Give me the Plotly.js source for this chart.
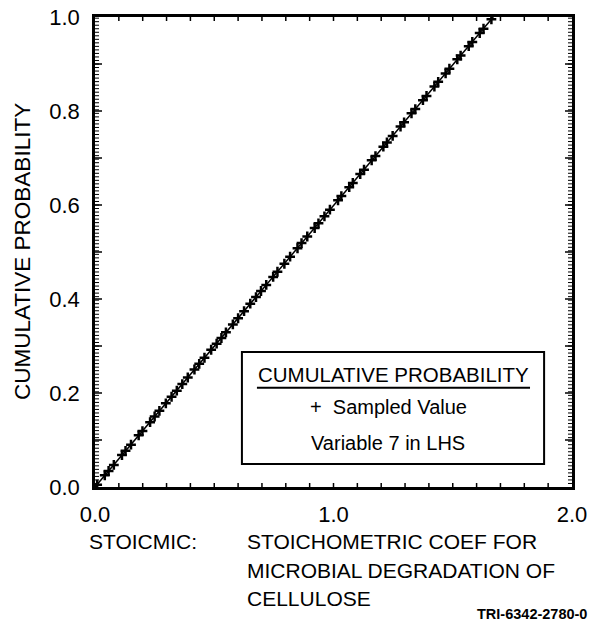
<!DOCTYPE html>
<html>
<head>
<meta charset="utf-8">
<script src="https://cdn.plot.ly/plotly-3.0.1.min.js"></script>
<style>html,body{margin:0;padding:0;background:#fff;}#chart{width:601px;height:632px;}</style>
</head>
<body>
<div id="chart"></div>
<script>
// Sampled values of STOICMIC (x) and their cumulative probability (y)
const sampledValues = [0.009,0.041,0.057,0.079,0.113,0.128,0.151,0.183,0.199,0.231,
  0.250,0.270,0.297,0.321,0.343,0.366,0.389,0.417,0.437,0.459,
  0.487,0.510,0.530,0.549,0.578,0.600,0.625,0.651,0.675,0.696,
  0.718,0.747,0.765,0.794,0.818,0.849,0.866,0.890,0.921,0.937,
  0.962,0.985,1.019,1.033,1.066,1.081,1.112,1.128,1.160,1.176,
  1.209,1.224,1.248,1.281,1.296,1.327,1.343,1.375,1.390,1.423,
  1.439,1.470,1.486,1.519,1.533,1.567,1.582,1.613,1.629,1.662];
const sampledProb = [0.005,0.025,0.034,0.047,0.068,0.077,0.090,0.110,0.119,0.138,
  0.150,0.162,0.178,0.192,0.205,0.219,0.233,0.250,0.262,0.275,
  0.292,0.305,0.317,0.329,0.346,0.359,0.374,0.390,0.404,0.417,
  0.430,0.447,0.458,0.475,0.490,0.508,0.519,0.533,0.551,0.561,
  0.576,0.590,0.610,0.619,0.638,0.647,0.666,0.675,0.695,0.704,
  0.724,0.733,0.747,0.767,0.776,0.795,0.804,0.823,0.832,0.852,
  0.862,0.880,0.890,0.910,0.918,0.938,0.947,0.966,0.975,0.995];
// Cumulative distribution line
const cdfX = [0.0, 1.67];
const cdfY = [0.0, 1.0];
// Tick labels
const xTickVals = [0.0, 1.0, 2.0];
const xTickText = ['0.0', '1.0', '2.0'];
const yTickVals = [0.0, 0.2, 0.4, 0.6, 0.8, 1.0];
const yTickText = ['0.0', '0.2', '0.4', '0.6', '0.8', '1.0'];

const FONT = 'Liberation Sans, Arial, Helvetica, sans-serif';

// Tick-mark positions (axis decoration, in axis units)
const xTickMarks = [];
for (let i = 1; i < 20; i++) xTickMarks.push(i / 10);
const yMajorMarks = [];
for (let i = 1; i < 10; i++) yMajorMarks.push(i / 10);
const yFineMarks = [];
for (let v = 0.0075; v < 0.999; v += 0.0075) yFineMarks.push(v);

// Inward-pointing tick marks, placed with the axis scales and sized in pixels
const tickShapes = [];
xTickMarks.forEach(v => {
  tickShapes.push({type: 'line', xref: 'x', yref: 'paper', ysizemode: 'pixel', yanchor: 0,
    x0: v, x1: v, y0: 0, y1: 4, line: {color: 'black', width: 1.5}});
  tickShapes.push({type: 'line', xref: 'x', yref: 'paper', ysizemode: 'pixel', yanchor: 1,
    x0: v, x1: v, y0: 0, y1: -4, line: {color: 'black', width: 1.5}});
});
yMajorMarks.forEach(v => {
  tickShapes.push({type: 'line', yref: 'y', xref: 'paper', xsizemode: 'pixel', xanchor: 0,
    y0: v, y1: v, x0: 0, x1: 7, line: {color: 'black', width: 1.5}});
  tickShapes.push({type: 'line', yref: 'y', xref: 'paper', xsizemode: 'pixel', xanchor: 1,
    y0: v, y1: v, x0: 0, x1: -7, line: {color: 'black', width: 1.5}});
});
yFineMarks.forEach(v => {
  tickShapes.push({type: 'line', yref: 'y', xref: 'paper', xsizemode: 'pixel', xanchor: 0,
    y0: v, y1: v, x0: 0, x1: 4, line: {color: 'black', width: 1}});
  tickShapes.push({type: 'line', yref: 'y', xref: 'paper', xsizemode: 'pixel', xanchor: 1,
    y0: v, y1: v, x0: 0, x1: -4, line: {color: 'black', width: 1}});
});

const traces = [
  {x: cdfX, y: cdfY, mode: 'lines', line: {color: 'black', width: 1.5}, showlegend: false, hoverinfo: 'skip'},
  {x: sampledValues, y: sampledProb, mode: 'markers',
   marker: {symbol: 'cross-thin', size: 7, color: 'black', line: {color: 'black', width: 2.5}},
   showlegend: false}
];

const layout = {
  width: 601, height: 632,
  margin: {l: 95, r: 29, t: 17, b: 145},
  paper_bgcolor: 'white', plot_bgcolor: 'white',
  font: {family: FONT, size: 20, color: 'black'},
  showlegend: false,
  xaxis: {
    range: [0, 2], tickmode: 'array', tickvals: xTickVals, ticktext: xTickText,
    ticks: '', showline: true, linewidth: 2.5, linecolor: 'black', mirror: true,
    showgrid: false, zeroline: false, ticklabelstandoff: 6,
    tickfont: {family: FONT, size: 22, color: 'black'}
  },
  yaxis: {
    range: [0, 1], tickmode: 'array', tickvals: yTickVals, ticktext: yTickText,
    ticks: '', showline: true, linewidth: 2.5, linecolor: 'black', mirror: true,
    showgrid: false, zeroline: false, ticklabelstandoff: 8,
    tickfont: {family: FONT, size: 22, color: 'black'}
  },
  shapes: tickShapes.concat([
    {type: 'rect', xref: 'x', yref: 'y', x0: 0.616, x1: 1.883, y0: 0.049, y1: 0.287,
     line: {color: 'black', width: 2}, fillcolor: 'white', layer: 'above'},
    {type: 'line', xref: 'x', yref: 'y', x0: 0.679, x1: 1.824, y0: 0.211, y1: 0.211,
     line: {color: 'black', width: 2}, layer: 'above'}
  ]),
  annotations: [
    {xref: 'x', yref: 'y', x: 1.25, y: 0.240, text: 'CUMULATIVE PROBABILITY', showarrow: false,
     xanchor: 'center', yanchor: 'middle', font: {family: FONT, size: 20.5, color: 'black'}},
    {xref: 'x', yref: 'y', x: 1.23, y: 0.170, text: '+  Sampled Value', showarrow: false,
     xanchor: 'center', yanchor: 'middle', font: {family: FONT, size: 20, color: 'black'}},
    {xref: 'x', yref: 'y', x: 1.23, y: 0.094, text: 'Variable 7 in LHS', showarrow: false,
     xanchor: 'center', yanchor: 'middle', font: {family: FONT, size: 20, color: 'black'}},
    {xref: 'paper', yref: 'paper', x: (22 - 95) / 477, y: 0.5, text: 'CUMULATIVE PROBABILITY', showarrow: false,
     textangle: -90, xanchor: 'center', yanchor: 'middle', font: {family: FONT, size: 22.5, color: 'black'}},
    {xref: 'paper', yref: 'paper', x: (87 - 95) / 477, y: (487 - 541) / 470, text: 'STOICMIC:', showarrow: false,
     xanchor: 'left', yanchor: 'middle', font: {family: FONT, size: 21, color: 'black'}},
    {xref: 'paper', yref: 'paper', x: (245 - 95) / 477, y: (487 - 541) / 470, text: 'STOICHOMETRIC COEF FOR', showarrow: false,
     xanchor: 'left', yanchor: 'middle', font: {family: FONT, size: 21, color: 'black'}},
    {xref: 'paper', yref: 'paper', x: (245 - 95) / 477, y: (487 - 570) / 470, text: 'MICROBIAL DEGRADATION OF', showarrow: false,
     xanchor: 'left', yanchor: 'middle', font: {family: FONT, size: 21, color: 'black'}},
    {xref: 'paper', yref: 'paper', x: (245 - 95) / 477, y: (487 - 598) / 470, text: 'CELLULOSE', showarrow: false,
     xanchor: 'left', yanchor: 'middle', font: {family: FONT, size: 21, color: 'black'}},
    {xref: 'paper', yref: 'paper', x: (589 - 95) / 477, y: (487 - 614) / 470, text: '<b>TRI-6342-2780-0</b>', showarrow: false,
     xanchor: 'right', yanchor: 'middle', font: {family: FONT, size: 14.5, color: 'black'}}
  ]
};

Plotly.newPlot('chart', traces, layout, {displayModeBar: false});
</script>
</body>
</html>
